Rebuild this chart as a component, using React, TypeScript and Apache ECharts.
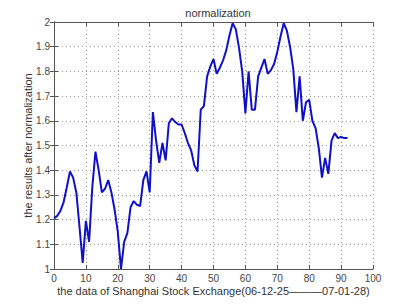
import React, { useEffect, useRef } from "react";
import * as echarts from "echarts";

const xValues: number[] = Array.from({ length: 93 }, (_, i) => i);
const seriesValues: number[] = [
  1.205, 1.215, 1.235, 1.27, 1.33, 1.395, 1.37, 1.31, 1.17, 1.025,
  1.195, 1.11, 1.33, 1.475, 1.4, 1.31, 1.325, 1.36, 1.31, 1.24,
  1.15, 1.0, 1.11, 1.145, 1.25, 1.275, 1.26, 1.255, 1.36, 1.395,
  1.31, 1.635, 1.52, 1.43, 1.51, 1.44, 1.59, 1.61, 1.595, 1.585,
  1.585, 1.55, 1.51, 1.48, 1.42, 1.395, 1.645, 1.66, 1.78, 1.82,
  1.85, 1.79, 1.815, 1.845, 1.885, 1.945, 1.995, 1.97, 1.895, 1.8,
  1.63, 1.8, 1.645, 1.645, 1.78, 1.815, 1.85, 1.79, 1.805, 1.83,
  1.88, 1.94, 1.995, 1.965, 1.9, 1.81, 1.635, 1.78, 1.6, 1.675,
  1.685, 1.6, 1.57, 1.49, 1.37, 1.45, 1.385, 1.52, 1.55, 1.53,
  1.535, 1.53, 1.53,
];

const titleText = "normalization";
const xName = "the data of Shanghai Stock Exchange(06-12-25\u2014\u2014\u201407-01-28)";
const yName = "the results after normalization";

export default function App() {
  const ref = useRef<HTMLDivElement>(null);
  useEffect(() => {
    if (!ref.current) return;
    const chart = echarts.init(ref.current, null, { renderer: "svg" });
    const font = "Liberation Sans, Arial, sans-serif";
    const axisColor = "#555";
    chart.setOption({
      animation: false,
      backgroundColor: "#fff",
      title: {
        text: titleText,
        left: 213,
        textAlign: "center",
        top: 2,
        textStyle: { fontFamily: font, fontSize: 11, fontWeight: "normal", color: "#333" },
      },
      grid: { left: 54, right: 39, top: 22, bottom: 35, show: false },
      xAxis: [
        {
          type: "value",
          min: 0,
          max: 100,
          interval: 10,
          position: "bottom",
          name: xName,
          nameLocation: "middle",
          nameGap: 16,
          nameMoveOverlap: false,
          nameTextStyle: { fontFamily: font, fontSize: 11, color: "#333" },
          axisLine: { show: true, lineStyle: { color: axisColor, width: 1 } },
          axisTick: { show: true, inside: true, length: 4, lineStyle: { color: axisColor } },
          axisLabel: { fontFamily: font, fontSize: 10, color: "#444", margin: 4 },
          splitLine: { show: true, lineStyle: { color: "#999", type: [1, 3], width: 1 } },
        },
        {
          type: "value",
          min: 0,
          max: 100,
          interval: 10,
          position: "top",
          axisLine: { show: true, lineStyle: { color: axisColor, width: 1 } },
          axisTick: { show: true, inside: true, length: 4, lineStyle: { color: axisColor } },
          axisLabel: { show: false },
          splitLine: { show: false },
        },
      ],
      yAxis: [
        {
          type: "value",
          min: 1,
          max: 2,
          interval: 0.1,
          position: "left",
          name: yName,
          nameLocation: "middle",
          nameGap: 21,
          nameMoveOverlap: false,
          nameRotate: 90,
          nameTextStyle: { fontFamily: font, fontSize: 11, color: "#333" },
          axisLine: { show: true, lineStyle: { color: axisColor, width: 1 } },
          axisTick: { show: true, inside: true, length: 4, lineStyle: { color: axisColor } },
          axisLabel: {
            fontFamily: font,
            fontSize: 10,
            color: "#444",
            margin: 4,
            formatter: (v: number) => String(+v.toFixed(1)),
          },
          splitLine: { show: true, lineStyle: { color: "#999", type: [1, 3], width: 1 } },
        },
        {
          type: "value",
          min: 1,
          max: 2,
          interval: 0.1,
          position: "right",
          axisLine: { show: true, lineStyle: { color: axisColor, width: 1 } },
          axisTick: { show: true, inside: true, length: 4, lineStyle: { color: axisColor } },
          axisLabel: { show: false },
          splitLine: { show: false },
        },
      ],
      series: [
        {
          type: "line",
          xAxisIndex: 0,
          yAxisIndex: 0,
          data: xValues.map((x, i) => [x, seriesValues[i]]),
          showSymbol: false,
          symbol: "none",
          lineStyle: { color: "#1010c8", width: 2 },
        },
      ],
    });
    return () => chart.dispose();
  }, []);
  return <div ref={ref} style={{ width: 412, height: 304, position: "absolute", left: 0, top: 0 }} />;
}
